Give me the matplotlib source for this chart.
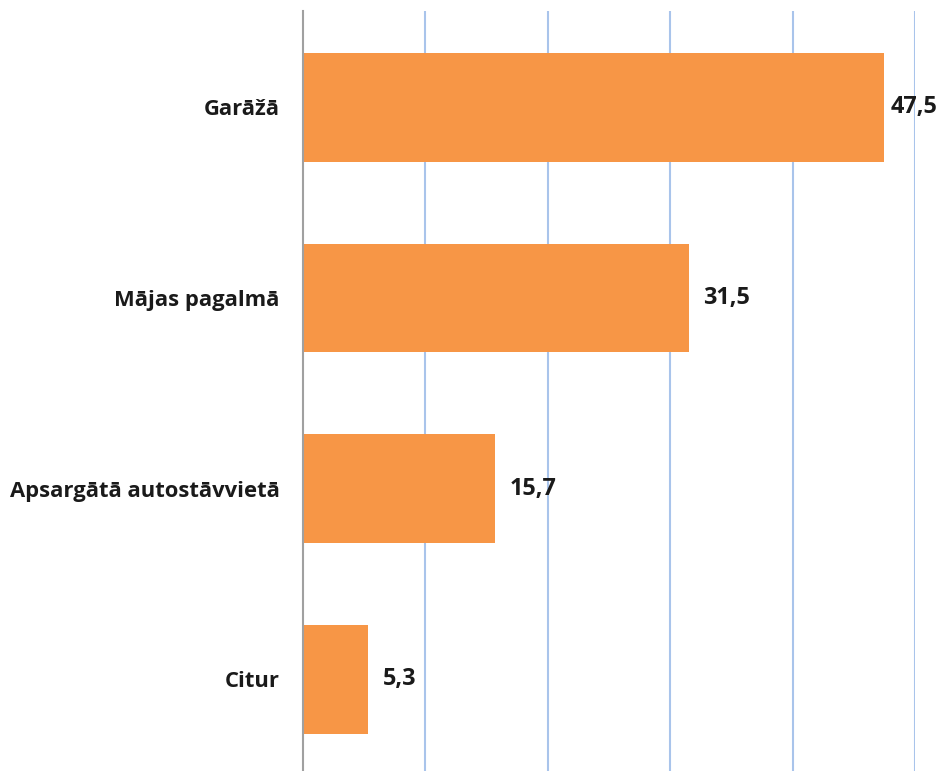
import matplotlib.pyplot as plt

categories = ["Garāžā", "Mājas pagalmā", "Apsargātā autostāvvietā", "Citur"]
values = [47.5, 31.5, 15.7, 5.3]
labels = ["47,5", "31,5", "15,7", "5,3"]

plt.rcParams['font.family'] = ['Open Sans', 'DejaVu Sans']

fig = plt.figure(figsize=(9.42, 7.71), dpi=100)
ax = fig.add_axes([303 / 942, 0, 612 / 942, 760 / 771])

ypos = list(range(len(categories)))
ax.barh(ypos, values, height=0.57, color="#f79646", zorder=2)

ax.set_xlim(0, 50)
ax.set_ylim(3.48, -0.506)
ax.set_xticks([10, 20, 30, 40, 50])
ax.xaxis.grid(True, color="#a9c4eb", linewidth=1.5, zorder=0)
ax.tick_params(axis="x", length=0, labelbottom=False)
ax.tick_params(axis="y", length=0, pad=17)
ax.set_yticks(ypos)
ax.set_yticklabels(categories, fontsize=15.8, fontweight="bold", color="#1a1a1a")

for s in ["top", "right", "bottom"]:
    ax.spines[s].set_visible(False)
ax.spines["left"].set_color("#a0a0a0")
ax.spines["left"].set_linewidth(1.5)

for y, v, lab in zip(ypos, values, labels):
    ax.text(min(v + 1.2, 48.0), y, lab, va="center", ha="left", fontsize=16.8,
            fontweight="bold", color="#1a1a1a", zorder=3, clip_on=False)

fig.savefig("out.png", dpi=100)
